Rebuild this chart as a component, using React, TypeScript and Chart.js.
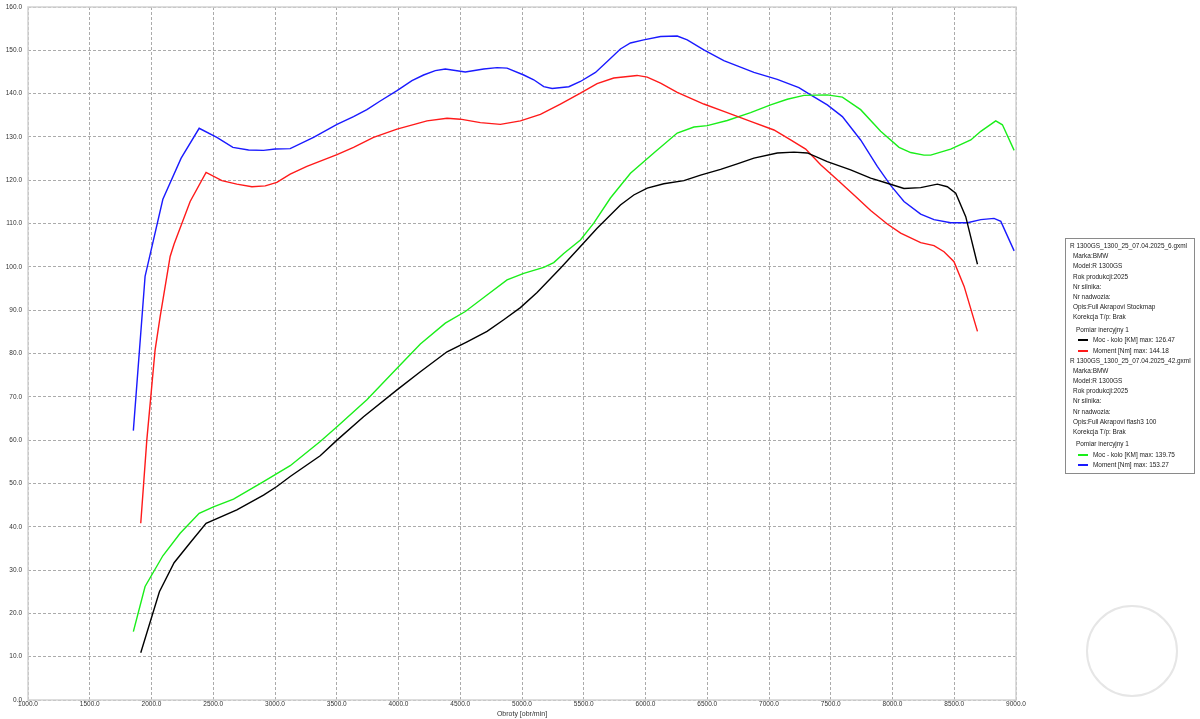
import React, { useEffect, useRef } from "react";
import { Chart, registerables } from "chart.js";

Chart.register(...registerables);

// ---- Data: run 1 (Full Akrapovi Stockmap)
const rpmMocStock = [1913, 2064, 2183, 2313, 2442, 2691, 2907, 3015, 3123, 3366, 3502, 3717, 3988, 4177, 4393, 4555, 4717, 4852, 4987, 5122, 5311, 5473, 5608, 5797, 5905, 6014, 6148, 6311, 6446, 6608, 6743, 6878, 7067, 7202, 7310, 7472, 7661, 7823, 7958, 8093, 8228, 8363, 8444, 8512, 8593, 8688];
const mocStock = [10.9, 25.0, 31.7, 36.3, 40.8, 43.9, 47.3, 49.3, 51.6, 56.4, 60.0, 65.4, 71.6, 75.8, 80.4, 82.7, 85.1, 87.8, 90.6, 94.1, 99.7, 104.7, 108.9, 114.3, 116.6, 118.2, 119.2, 119.9, 121.2, 122.5, 123.8, 125.1, 126.3, 126.5, 126.3, 124.3, 122.4, 120.5, 119.3, 118.1, 118.3, 119.1, 118.5, 117.0, 111.6, 100.6];

const rpmMomentStock = [1913, 1962, 2002, 2029, 2070, 2151, 2183, 2313, 2442, 2570, 2691, 2813, 2921, 3015, 3123, 3258, 3502, 3636, 3798, 3988, 4231, 4393, 4501, 4663, 4825, 4987, 5149, 5311, 5473, 5608, 5743, 5932, 6014, 6122, 6257, 6472, 6634, 6851, 7040, 7175, 7297, 7418, 7553, 7688, 7823, 7958, 8066, 8228, 8336, 8417, 8498, 8580, 8688];
const momentStock = [40.8, 60.0, 72.4, 80.8, 88.5, 102.4, 105.3, 115.1, 121.8, 119.9, 119.1, 118.5, 118.7, 119.5, 121.4, 123.2, 125.9, 127.6, 129.9, 131.8, 133.7, 134.3, 134.1, 133.3, 132.9, 133.7, 135.2, 137.6, 140.1, 142.3, 143.6, 144.2, 143.8, 142.4, 140.3, 137.6, 135.9, 133.6, 131.6, 129.3, 127.2, 123.6, 120.1, 116.6, 113.0, 109.9, 107.8, 105.6, 104.9, 103.5, 101.2, 95.5, 85.1];

// ---- Data: run 2 (Full Akrapovi flash3 100)
const rpmMocFlash = [1853, 1948, 2092, 2232, 2386, 2502, 2664, 2907, 3123, 3366, 3502, 3744, 3988, 4177, 4379, 4541, 4717, 4879, 5014, 5176, 5257, 5338, 5473, 5581, 5716, 5878, 6067, 6257, 6392, 6500, 6662, 6851, 7013, 7148, 7283, 7472, 7594, 7742, 7904, 8053, 8147, 8255, 8309, 8471, 8634, 8715, 8836, 8890, 8985];
const mocFlash = [15.8, 26.2, 33.3, 38.5, 43.1, 44.6, 46.4, 50.4, 54.1, 59.7, 63.1, 69.3, 76.6, 82.2, 87.0, 89.7, 93.5, 97.0, 98.5, 99.9, 101.0, 103.1, 106.2, 110.1, 115.9, 121.6, 126.3, 130.9, 132.3, 132.6, 133.8, 135.6, 137.4, 138.7, 139.6, 139.7, 139.2, 136.3, 131.3, 127.6, 126.4, 125.8, 125.8, 127.2, 129.3, 131.3, 133.7, 132.8, 126.9];

const rpmMomentFlash = [1853, 1948, 2092, 2240, 2386, 2529, 2659, 2786, 2907, 3002, 3123, 3312, 3502, 3636, 3744, 3852, 3988, 4109, 4203, 4298, 4379, 4541, 4690, 4798, 4879, 5014, 5095, 5176, 5244, 5379, 5473, 5595, 5690, 5797, 5878, 5986, 6122, 6257, 6338, 6472, 6634, 6743, 6878, 7067, 7242, 7337, 7472, 7594, 7742, 7877, 7985, 8093, 8228, 8336, 8471, 8607, 8715, 8822, 8877, 8985];
const momentFlash = [62.2, 97.8, 115.6, 125.1, 132.0, 129.9, 127.6, 127.0, 126.9, 127.2, 127.3, 129.9, 132.9, 134.7, 136.3, 138.3, 140.7, 143.0, 144.3, 145.3, 145.7, 145.0, 145.7, 146.0, 145.9, 144.3, 143.2, 141.6, 141.2, 141.6, 142.8, 144.9, 147.4, 150.3, 151.7, 152.4, 153.2, 153.3, 152.4, 150.1, 147.6, 146.4, 144.9, 143.3, 141.4, 139.7, 137.4, 134.7, 129.3, 123.2, 118.8, 115.1, 112.2, 110.9, 110.2, 110.2, 110.9, 111.2, 110.5, 103.7];

// ---- Axes
const xMin = 1000;
const xMax = 9000;
const xStep = 500;
const yMin = 0;
const yMax = 160;
const yStep = 10;
const xTitle = "Obroty [obr/min]";

// ---- Legend texts
const run1Info = ["Marka:BMW", "Model:R 1300GS", "Rok produkcji:2025", "Nr silnika:", "Nr nadwozia:", "Opis:Full Akrapovi Stockmap", "Korekcja T/p: Brak"];
const run2Info = ["Marka:BMW", "Model:R 1300GS", "Rok produkcji:2025", "Nr silnika:", "Nr nadwozia:", "Opis:Full Akrapovi flash3 100", "Korekcja T/p: Brak"];
const runFiles = ["R 1300GS_1300_25_07.04.2025_6.gxml", "R 1300GS_1300_25_07.04.2025_42.gxml"];
const measurementName = "Pomiar inercyjny 1";
const seriesLabels = ["Moc - kolo [KM] max: 126.47", "Moment [Nm] max: 144.18", "Moc - kolo [KM] max: 139.75", "Moment [Nm] max: 153.27"];
const seriesColors = ["#000000", "#ff1a1a", "#1aee1a", "#1a1aff"];

const FONT = "'Liberation Sans', Arial, sans-serif";

function toPoints(xs: number[], ys: number[]) {
  return xs.map((x, i) => ({ x, y: ys[i] }));
}

const framePlugin = {
  id: "frame",
  afterDraw(chart: any) {
    const { ctx, chartArea } = chart;
    ctx.save();
    ctx.strokeStyle = "#d2d2d2";
    ctx.lineWidth = 1.5;
    ctx.setLineDash([]);
    ctx.strokeRect(chartArea.left, chartArea.top, chartArea.right - chartArea.left, chartArea.bottom - chartArea.top);
    ctx.restore();
  },
};

function ChartCanvas() {
  const ref = useRef<HTMLCanvasElement>(null);
  useEffect(() => {
    if (!ref.current) return;
    const mk = (label: string, xs: number[], ys: number[], color: string) => ({
      label,
      data: toPoints(xs, ys),
      borderColor: color,
      backgroundColor: color,
      borderWidth: 1.4,
      pointRadius: 0,
      tension: 0,
      fill: false,
    });
    const chart = new Chart(ref.current, {
      type: "line",
      data: {
        datasets: [
          mk(seriesLabels[0], rpmMocStock, mocStock, seriesColors[0]),
          mk(seriesLabels[1], rpmMomentStock, momentStock, seriesColors[1]),
          mk(seriesLabels[2], rpmMocFlash, mocFlash, seriesColors[2]),
          mk(seriesLabels[3], rpmMomentFlash, momentFlash, seriesColors[3]),
        ],
      },
      options: {
        animation: false,
        responsive: false,
        devicePixelRatio: 1,
        layout: { padding: { top: 7, right: 184, left: 0, bottom: 0 } },
        plugins: { legend: { display: false }, tooltip: { enabled: false } },
        scales: {
          x: {
            type: "linear",
            min: xMin,
            max: xMax,
            afterFit: (s: any) => {
              s.height = 19;
            },
            ticks: {
              stepSize: xStep,
              autoSkip: false,
              maxRotation: 0,
              padding: 0,
              color: "#333",
              font: { family: FONT, size: 6.5 },
              callback: (v: any) => Number(v).toFixed(1),
            },
            grid: { color: "#ababab", lineWidth: 1, drawTicks: false },
            border: { display: false, dash: [3, 2] },
            title: { display: true, text: xTitle, color: "#333", font: { family: FONT, size: 7 }, padding: { top: 0, bottom: 1 } },
          },
          y: {
            min: yMin,
            max: yMax,
            afterFit: (s: any) => {
              s.width = 28;
              s.paddingTop = 3;
              s.paddingBottom = 3;
            },
            ticks: {
              stepSize: yStep,
              padding: 6,
              color: "#333",
              font: { family: FONT, size: 6.5 },
              callback: (v: any) => Number(v).toFixed(1),
            },
            grid: { color: "#ababab", lineWidth: 1, drawTicks: false },
            border: { display: false, dash: [3, 2] },
          },
        },
      },
      plugins: [framePlugin],
    });
    return () => chart.destroy();
  }, []);
  return <canvas ref={ref} width={1200} height={719} style={{ width: 1200, height: 719, display: "block" }} />;
}

function Legend() {
  const lineH = 10.2;
  const items: React.ReactNode[] = [];
  const textStyle = (x: number, y: number): React.CSSProperties => ({
    position: "absolute",
    left: x,
    top: y - 5,
    height: 10,
    lineHeight: "10px",
    fontSize: 6.45,
    fontFamily: FONT,
    color: "#1a1a1a",
    whiteSpace: "nowrap",
  });
  const blocks = [
    { file: runFiles[0], info: run1Info, start: 246, s: [0, 1] },
    { file: runFiles[1], info: run2Info, start: 360.5, s: [2, 3] },
  ];
  blocks.forEach((b, bi) => {
    items.push(<div key={`f${bi}`} style={textStyle(1070, b.start)}>{b.file}</div>);
    b.info.forEach((t, i) => {
      items.push(<div key={`i${bi}-${i}`} style={textStyle(1073, b.start + (i + 1) * lineH)}>{t}</div>);
    });
    const py = b.start + 7 * lineH + 12.5;
    items.push(<div key={`p${bi}`} style={textStyle(1076, py)}>{measurementName}</div>);
    b.s.forEach((si, k) => {
      const y = Math.round(py + 10.5 * (k + 1));
      items.push(
        <div key={`l${bi}-${k}`} style={{ position: "absolute", left: 1078, top: y - 1, width: 10, height: 2, background: seriesColors[si] }} />
      );
      items.push(<div key={`t${bi}-${k}`} style={textStyle(1093, y)}>{seriesLabels[si]}</div>);
    });
  });
  return (
    <>
      <div style={{ position: "absolute", left: 1065, top: 238, width: 130, height: 236, border: "1px solid #8a8a8a", boxSizing: "border-box" }} />
      {items}
    </>
  );
}

export default function App() {
  useEffect(() => {
    document.body.style.margin = "0";
  }, []);
  return (
    <div style={{ position: "relative", width: 1200, height: 719, background: "#fff", overflow: "hidden" }}>
      <ChartCanvas />
      <Legend />
      <div style={{ position: "absolute", left: 1086, top: 605, width: 92, height: 92, borderRadius: "50%", border: "2px solid #e6e6e6", boxSizing: "border-box" }} />
    </div>
  );
}
